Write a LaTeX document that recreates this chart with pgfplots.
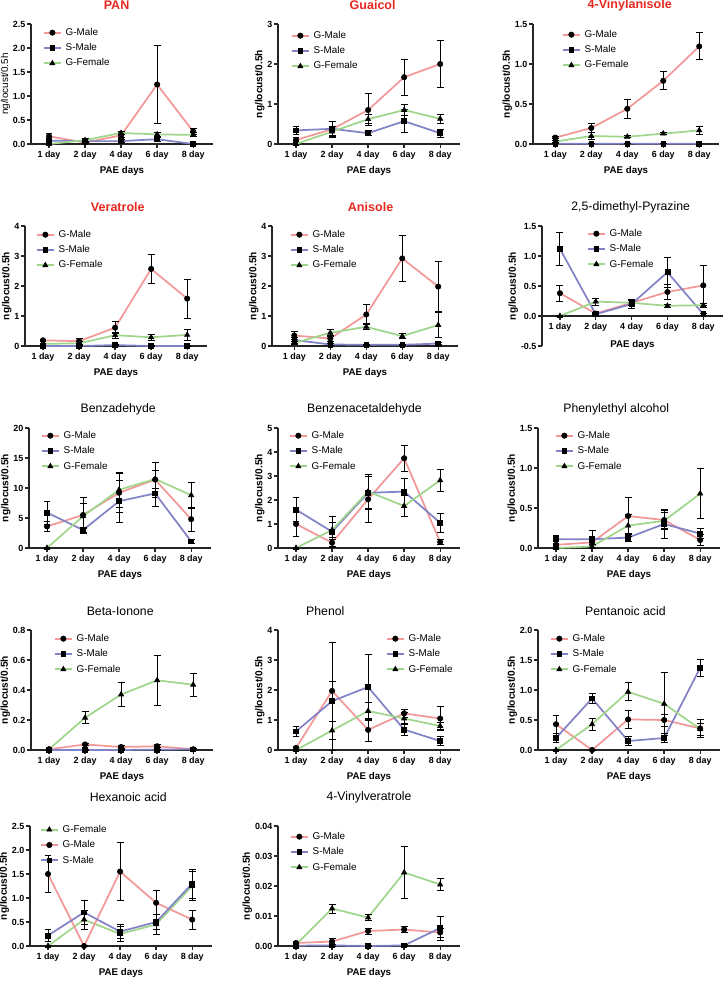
\documentclass[border=0pt]{standalone}
\usepackage{pgfplots}
\pgfplotsset{compat=1.18}
\usepackage{fontspec}
\setmainfont{Liberation Sans}
\definecolor{gmc}{RGB}{243,152,152}
\definecolor{smc}{RGB}{130,130,198}
\definecolor{gfc}{RGB}{160,214,140}
\definecolor{tred}{RGB}{232,40,32}
\pgfplotsset{
  panel/.style={
    scale only axis, height=90pt, width=136.5pt,
    xmin=-0.5, xmax=4.55, ymin=0,
    axis x line*=bottom, axis y line*=left,
    axis line style={line width=1pt, black!85},
    tick align=outside, major tick length=3pt,
    tick style={line width=1pt, black!85},
    xtick={0,...,4}, xticklabels={1 day,2 day,4 day,6 day,8 day},
    xlabel={PAE days}, ylabel={ng/locust/0.5h},
    tick label style={font=\bfseries\fontsize{6.7}{7.5}\selectfont, inner sep=1pt},
    xticklabel style={yshift=-1pt},
    xlabel style={font=\bfseries\fontsize{7.3}{8.5}\selectfont, yshift=-1pt},
    ylabel style={font=\bfseries\fontsize{7.6}{9}\selectfont, inner sep=1pt},
    /pgf/number format/assume math mode=true,
    scaled y ticks=false,
    clip=false,
    title style={anchor=center, yshift=8.25pt, font=\fontsize{9.2}{11}\selectfont},
    legend style={draw=none, fill=none, at={(0,1)}, anchor=north west,
      font=\fontsize{7.4}{8.5}\selectfont, inner sep=0pt, outer sep=0pt,
      row sep=4.5pt, column sep=3pt,
      nodes={inner sep=0pt, text height=5.5pt, text depth=1.5pt}},
    legend cell align=left,
    legend image code/.code={\draw[mark repeat=2,mark phase=2,##1] plot coordinates {(0pt,0pt) (6.375pt,0pt) (12.75pt,0pt)};},
  },
  redtitle/.style={title style={font=\bfseries\fontsize{9.4}{11}\selectfont, text=tred}},
  dec1/.style={yticklabel style={/pgf/number format/.cd,fixed,fixed zerofill,precision=1}},
  dec2/.style={yticklabel style={/pgf/number format/.cd,fixed,fixed zerofill,precision=2}},
  leg/.style 2 args={legend style={xshift=#1, yshift=#2}},
  ebar/.style={error bars/.cd, y dir=both, y explicit,
    error bar style={black, line width=0.75pt, solid},
    error mark options={rotate=90, black, mark size=2.6pt, line width=0.75pt, solid}},
  gm/.style={color=gmc, line width=1.3pt, mark=*, mark size=2pt, mark options={fill=black, draw=black, solid, line width=0.5pt}, ebar},
  sm/.style={color=smc, line width=1.3pt, mark=square*, mark size=1.8pt, mark options={fill=black, draw=black, solid, line width=0.5pt}, ebar},
  gf/.style={color=gfc, line width=1.3pt, mark=triangle*, mark size=2.2pt, mark options={fill=black, draw=black, solid, line width=0.5pt}, ebar},
}
\begin{document}
\begin{tikzpicture}
\path[use as bounding box] (0,0) rectangle (542.25pt,-738pt);

% 1 PAN
\begin{axis}[panel, at={(23.25pt,-108pt)}, anchor=south west,
  title={PAN}, redtitle, title style={at={(0.47,1)}},
  ylabel style={font=\fontsize{7.4}{9}\selectfont},
  ymax=2.5, ytick={0,0.5,1,1.5,2,2.5}, dec1, leg={9pt}{-3pt}]
\addplot[gm] coordinates {(0,0.16)+-(0,0.05) (1,0.03)+-(0,0.02) (2,0.18)+-(0,0.05) (3,1.24)+-(0,0.81) (4,0.26)+-(0,0.07)};
\addplot[sm] coordinates {(0,0.07)+-(0,0.05) (1,0.06)+-(0,0.03) (2,0.06)+-(0,0.03) (3,0.10)+-(0,0.04) (4,0.0)+-(0,0.01)};
\addplot[gf] coordinates {(0,0.0)+-(0,0.02) (1,0.08)+-(0,0.03) (2,0.23)+-(0,0.04) (3,0.20)+-(0,0.04) (4,0.19)+-(0,0.04)};
\legend{G-Male,S-Male,G-Female}
\end{axis}

% 2 Guaicol
\begin{axis}[panel, at={(208.5pt,-108pt)}, anchor=south west,
  title={Guaicol}, redtitle, title style={at={(0.52,1)}},
  ymax=3, ytick={0,1,2,3}, leg={9.75pt}{-5.25pt}]
\addplot[gm] coordinates {(0,0.10)+-(0,0.05) (1,0.37)+-(0,0.2) (2,0.85)+-(0,0.4) (3,1.67)+-(0,0.45) (4,2.0)+-(0,0.59)};
\addplot[sm] coordinates {(0,0.34)+-(0,0.1) (1,0.38)+-(0,0.18) (2,0.27)+-(0,0.06) (3,0.57)+-(0,0.28) (4,0.27)+-(0,0.1)};
\addplot[gf] coordinates {(0,0.0)+-(0,0.05) (1,0.31)+-(0,0.12) (2,0.62)+-(0,0.12) (3,0.85)+-(0,0.14) (4,0.63)+-(0,0.11)};
\legend{G-Male,S-Male,G-Female}
\end{axis}

% 3 4-Vinylanisole
\begin{axis}[panel, at={(399.75pt,-108pt)}, anchor=south west, width=139.5pt, xmin=-0.62,
  title={4-Vinylanisole}, redtitle, title style={at={(0.52,1)}},
  ymax=1.5, ytick={0,0.5,1,1.5}, dec1, leg={21.75pt}{-4.5pt}]
\addplot[gm] coordinates {(0,0.08)+-(0,0.01) (1,0.20)+-(0,0.06) (2,0.44)+-(0,0.12) (3,0.79)+-(0,0.11) (4,1.22)+-(0,0.17)};
\addplot[sm] coordinates {(0,0.003)+-(0,0.003) (1,0.003)+-(0,0.003) (2,0.005)+-(0,0.003) (3,0.003)+-(0,0.002) (4,0.002)+-(0,0.002)};
\addplot[gf] coordinates {(0,0.03)+-(0,0.01) (1,0.10)+-(0,0.04) (2,0.09)+-(0,0.01) (3,0.13)+-(0,0.01) (4,0.17)+-(0,0.05)};
\legend{G-Male,S-Male,G-Female}
\end{axis}

% 4 Veratrole
\begin{axis}[panel, at={(18.75pt,-259.5pt)}, anchor=south west,
  title={Veratrole}, redtitle, title style={at={(0.51,1)}},
  ymax=4, ytick={0,1,2,3,4}, leg={8.25pt}{-3pt}]
\addplot[gm] coordinates {(0,0.19)+-(0,0.03) (1,0.16)+-(0,0.1) (2,0.61)+-(0,0.2) (3,2.57)+-(0,0.49) (4,1.58)+-(0,0.65)};
\addplot[sm] coordinates {(0,0.0)+-(0,0.01) (1,0.0)+-(0,0.01) (2,0.03)+-(0,0.02) (3,0.0)+-(0,0.01) (4,0.0)+-(0,0.01)};
\addplot[gf] coordinates {(0,0.07)+-(0,0.02) (1,0.09)+-(0,0.05) (2,0.36)+-(0,0.1) (3,0.29)+-(0,0.1) (4,0.37)+-(0,0.17)};
\legend{G-Male,S-Male,G-Female}
\end{axis}

% 5 Anisole
\begin{axis}[panel, at={(204pt,-259.5pt)}, anchor=south west, width=139.5pt, xmin=-0.62,
  title={Anisole}, redtitle, title style={at={(0.53,1)}},
  ymax=4, ytick={0,1,2,3,4}, leg={13.5pt}{-3pt}]
\addplot[gm] coordinates {(0,0.35)+-(0,0.12) (1,0.25)+-(0,0.1) (2,1.05)+-(0,0.33) (3,2.92)+-(0,0.77) (4,1.98)+-(0,0.83)};
\addplot[sm] coordinates {(0,0.2)+-(0,0.1) (1,0.05)+-(0,0.03) (2,0.04)+-(0,0.02) (3,0.04)+-(0,0.02) (4,0.08)+-(0,0.03)};
\addplot[gf] coordinates {(0,0.1)+-(0,0.05) (1,0.44)+-(0,0.12) (2,0.64)+-(0,0.1) (3,0.33)+-(0,0.08) (4,0.70)+-(0,0.43)};
\legend{G-Male,S-Male,G-Female}
\end{axis}

% 6 2,5-dimethyl-Pyrazine
\begin{axis}[panel, at={(406.5pt,-259.5pt)}, anchor=south west, width=135.75pt,
  axis x line*=middle,
  xlabel style={at={(axis description cs:0.5,0.02)}, anchor=center},
  title={2,5-dimethyl-Pyrazine}, title style={at={(0.49,1)}},
  ymin=-0.5, ymax=1.5, ytick={-0.5,0,0.5,1,1.5}, dec1, leg={33.75pt}{-2.25pt}]
\addplot[gm] coordinates {(0,0.38)+-(0,0.13) (1,0.04)+-(0,0.02) (2,0.22)+-(0,0.05) (3,0.40)+-(0,0.12) (4,0.51)+-(0,0.33)};
\addplot[sm] coordinates {(0,1.12)+-(0,0.27) (1,0.03)+-(0,0.02) (2,0.2)+-(0,0.08) (3,0.73)+-(0,0.25) (4,0.03)+-(0,0.02)};
\addplot[gf] coordinates {(0,0.0)+-(0,0.01) (1,0.24)+-(0,0.06) (2,0.22)+-(0,0.04) (3,0.17)+-(0,0.02) (4,0.18)+-(0,0.03)};
\legend{G-Male,S-Male,G-Female}
\end{axis}

% 7 Benzadehyde
\begin{axis}[panel, at={(21.75pt,-411pt)}, anchor=south west,
  title={Benzadehyde}, title style={at={(0.49,1)}},
  ymax=20, ytick={0,5,10,15,20}, leg={9pt}{-2.25pt}]
\addplot[gm] coordinates {(0,3.6)+-(0,0.8) (1,5.5)+-(0,3.0) (2,9.2)+-(0,3.3) (3,11.4)+-(0,2.9) (4,4.8)+-(0,2.0)};
\addplot[sm] coordinates {(0,5.9)+-(0,1.9) (1,3.0)+-(0,0.4) (2,7.8)+-(0,3.5) (3,9.1)+-(0,2.2) (4,1.1)+-(0,0.4)};
\addplot[gf] coordinates {(0,0.0)+-(0,0.05) (1,5.3)+-(0,2.1) (2,9.7)+-(0,2.9) (3,11.5)+-(0,1.5) (4,8.8)+-(0,2.2)};
\legend{G-Male,S-Male,G-Female}
\end{axis}

% 8 Benzenacetaldehyde
\begin{axis}[panel, at={(208.5pt,-411pt)}, anchor=south west,
  title={Benzenacetaldehyde}, title style={at={(0.475,1)}},
  ymax=5, ytick={0,1,2,3,4,5}, leg={8.25pt}{-2.25pt}]
\addplot[gm] coordinates {(0,1.0)+-(0,0.5) (1,0.22)+-(0,0.15) (2,2.03)+-(0,0.95) (3,3.74)+-(0,0.55) (4,0.25)+-(0,0.1)};
\addplot[sm] coordinates {(0,1.6)+-(0,0.5) (1,0.68)+-(0,0.65) (2,2.3)+-(0,0.7) (3,2.35)+-(0,0.55) (4,1.05)+-(0,0.4)};
\addplot[gf] coordinates {(0,0.0)+-(0,0.02) (1,0.75)+-(0,0.3) (2,2.35)+-(0,0.7) (3,1.75)+-(0,0.45) (4,2.82)+-(0,0.45)};
\legend{G-Male,S-Male,G-Female}
\end{axis}

% 9 Phenylethyl alcohol
\begin{axis}[panel, at={(403.5pt,-411pt)}, anchor=south west,
  title={Phenylethyl alcohol}, title style={at={(0.43,1)}},
  ymax=1.5, ytick={0,0.5,1,1.5}, dec1, leg={12.75pt}{-2.25pt}]
\addplot[gm] coordinates {(0,0.04)+-(0,0.02) (1,0.07)+-(0,0.04) (2,0.40)+-(0,0.23) (3,0.35)+-(0,0.12) (4,0.10)+-(0,0.07)};
\addplot[sm] coordinates {(0,0.11)+-(0,0.05) (1,0.11)+-(0,0.11) (2,0.13)+-(0,0.05) (3,0.30)+-(0,0.18) (4,0.18)+-(0,0.06)};
\addplot[gf] coordinates {(0,0.0)+-(0,0.01) (1,0.02)+-(0,0.02) (2,0.28)+-(0,0.14) (3,0.34)+-(0,0.1) (4,0.68)+-(0,0.31)};
\legend{G-Male,S-Male,G-Female}
\end{axis}

% 10 Beta-Ionone
\begin{axis}[panel, at={(23.25pt,-562.5pt)}, anchor=south west,
  title={Beta-Ionone}, title style={at={(0.49,1)}},
  ymax=0.8, ytick={0,0.2,0.4,0.6,0.8}, dec1, leg={17.25pt}{-3pt}]
\addplot[gm] coordinates {(0,0.005)+-(0,0.005) (1,0.037)+-(0,0.008) (2,0.02)+-(0,0.008) (3,0.025)+-(0,0.01) (4,0.005)+-(0,0.003)};
\addplot[sm] coordinates {(0,0.0)+-(0,0.002) (1,0.0)+-(0,0.002) (2,0.0)+-(0,0.002) (3,0.003)+-(0,0.003) (4,0.005)+-(0,0.003)};
\addplot[gf] coordinates {(0,0.005)+-(0,0.003) (1,0.215)+-(0,0.04) (2,0.37)+-(0,0.077) (3,0.465)+-(0,0.165) (4,0.435)+-(0,0.076)};
\legend{G-Male,S-Male,G-Female}
\end{axis}

% 11 Phenol
\begin{axis}[panel, at={(208.5pt,-562.5pt)}, anchor=south west,
  title={Phenol}, title style={at={(0.26,1)}},
  ymax=4, ytick={0,1,2,3,4}, leg={81pt}{-3pt}]
\addplot[gm] coordinates {(0,0.07)+-(0,0.05) (1,1.97)+-(0,0.33) (2,0.67)+-(0,0.37) (3,1.22)+-(0,0.13) (4,1.05)+-(0,0.4)};
\addplot[sm] coordinates {(0,0.62)+-(0,0.17) (1,1.63)+=(0,1.97)-=(0,1.63) (2,2.1)+-(0,1.08) (3,0.68)+-(0,0.2) (4,0.3)+-(0,0.15)};
\addplot[gf] coordinates {(0,0.0)+-(0,0.03) (1,0.65)+-(0,0.3) (2,1.3)+-(0,0.3) (3,1.05)+-(0,0.2) (4,0.8)+-(0,0.12)};
\legend{G-Male,S-Male,G-Female}
\end{axis}

% 12 Pentanoic acid
\begin{axis}[panel, at={(403.5pt,-562.5pt)}, anchor=south west,
  title={Pentanoic acid}, title style={at={(0.48,1)}},
  ymax=2, ytick={0,0.5,1,1.5,2}, dec1, leg={9pt}{-3pt}]
\addplot[gm] coordinates {(0,0.43)+-(0,0.15) (1,0.0)+-(0,0.01) (2,0.51)+-(0,0.15) (3,0.50)+-(0,0.1) (4,0.36)+-(0,0.15)};
\addplot[sm] coordinates {(0,0.2)+-(0,0.07) (1,0.86)+-(0,0.08) (2,0.15)+-(0,0.07) (3,0.2)+-(0,0.08) (4,1.37)+-(0,0.14)};
\addplot[gf] coordinates {(0,0.0)+-(0,0.01) (1,0.43)+-(0,0.1) (2,0.97)+-(0,0.15) (3,0.77)+-(0,0.53) (4,0.35)+-(0,0.1)};
\legend{G-Male,S-Male,G-Female}
\end{axis}

% 13 Hexanoic acid
\begin{axis}[panel, at={(22.5pt,-709.5pt)}, anchor=south west,
  title={Hexanoic acid}, title style={at={(0.54,1)}, yshift=7.5pt},
  ymax=2.5, ytick={0,0.5,1,1.5,2,2.5}, dec1, leg={7.5pt}{0.75pt}]
\addplot[gf] coordinates {(0,0.0)+-(0,0.02) (1,0.55)+-(0,0.2) (2,0.25)+-(0,0.15) (3,0.45)+-(0,0.2) (4,1.25)+-(0,0.3)};
\addplot[gm] coordinates {(0,1.5)+-(0,0.38) (1,0.0)+-(0,0.02) (2,1.55)+-(0,0.6) (3,0.9)+-(0,0.25) (4,0.55)+-(0,0.2)};
\addplot[sm] coordinates {(0,0.22)+-(0,0.12) (1,0.7)+-(0,0.25) (2,0.3)+-(0,0.15) (3,0.5)+-(0,0.15) (4,1.3)+-(0,0.3)};
\legend{G-Female,G-Male,S-Male}
\end{axis}

% 14 4-Vinylveratrole
\begin{axis}[panel, at={(208.5pt,-709.5pt)}, anchor=south west,
  title={4-Vinylveratrole}, title style={at={(0.5,1)}, yshift=7.5pt},
  ymax=0.04, ytick={0,0.01,0.02,0.03,0.04}, dec2, leg={9pt}{-4.5pt}]
\addplot[gm] coordinates {(0,0.001)+-(0,0.0005) (1,0.0015)+-(0,0.001) (2,0.005)+-(0,0.001) (3,0.0055)+-(0,0.001) (4,0.0045)+-(0,0.0015)};
\addplot[sm] coordinates {(0,0.0001)+-(0,0.0002) (1,0.0002)+-(0,0.0002) (2,0.0)+-(0,0.0002) (3,0.0002)+-(0,0.0002) (4,0.006)+-(0,0.004)};
\addplot[gf] coordinates {(0,0.0005)+-(0,0.0003) (1,0.0125)+-(0,0.0015) (2,0.0095)+-(0,0.001) (3,0.0245)+-(0,0.0088) (4,0.0205)+-(0,0.002)};
\legend{G-Male,S-Male,G-Female}
\end{axis}
\end{tikzpicture}
\end{document}
